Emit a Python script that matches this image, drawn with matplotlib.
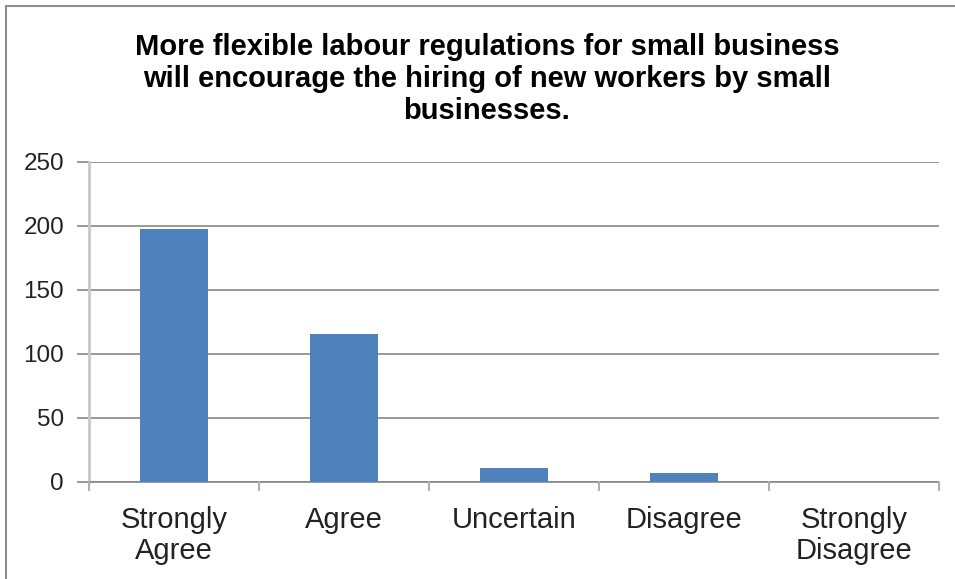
import matplotlib.pyplot as plt
from matplotlib.patches import Rectangle

categories = ['Strongly\nAgree', 'Agree', 'Uncertain', 'Disagree', 'Strongly\nDisagree']
responses = [198, 116, 11, 7, 0]
y_ticks = [0, 50, 100, 150, 200, 250]
title = ('More flexible labour regulations for small business\n'
         'will encourage the hiring of new workers by small\n'
         'businesses.')

plt.rcParams['font.family'] = ['Liberation Sans', 'DejaVu Sans']

fig = plt.figure(figsize=(9.55, 5.79), dpi=100)
ax = fig.add_axes([89 / 955, 1 - 482 / 579, 850 / 955, 320 / 579])

# frame around the chart area
fig.patches.append(Rectangle((6 / 955, -0.1), 1.2, 1 - 6 / 579 + 0.1,
                             transform=fig.transFigure, fill=False,
                             edgecolor='#8c8c8c', linewidth=1.5))

x = range(len(categories))
ax.bar(x, responses, width=0.4, color='#4F81BD', zorder=3)

ax.set_xlim(-0.5, len(categories) - 0.5)
ax.set_ylim(0, 250)
ax.set_yticks(y_ticks)
ax.set_xticks(x)
ax.set_xticklabels(categories, fontsize=21, color='#222222', linespacing=1.15)
ax.tick_params(axis='y', labelsize=17.5, labelcolor='#222222', length=9,
               color='#868686', width=1.2, pad=9)
ax.tick_params(axis='x', length=0, pad=17)

# category boundary ticks on the x axis
for b in range(len(categories) + 1):
    ax.plot([b - 0.5, b - 0.5], [0, -6], color='#b0b0b0', linewidth=1.5,
            clip_on=False, zorder=4)

ax.yaxis.grid(True, color='#868686', linewidth=1.2, zorder=0)
for side in ['top', 'right']:
    ax.spines[side].set_visible(False)
ax.spines['left'].set_color('#c8c8c8')
ax.spines['left'].set_linewidth(2)
ax.spines['bottom'].set_color('#868686')
ax.spines['bottom'].set_linewidth(1.2)

fig.text(487 / 955, 1 - 33 / 579, title, ha='center', va='top',
         fontsize=21, fontweight='bold', linespacing=1.18)

fig.savefig('out.png', dpi=100)
